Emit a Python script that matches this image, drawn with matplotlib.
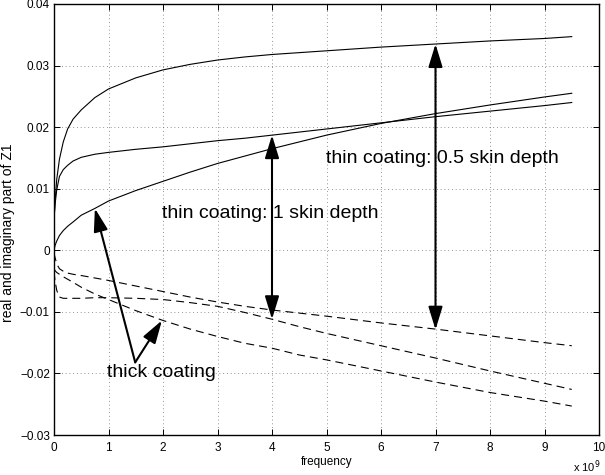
import matplotlib
matplotlib.use('Agg')
import matplotlib.pyplot as plt

plt.rcParams['font.family'] = ['Liberation Sans', 'DejaVu Sans']

# frequency in units of 1e9 Hz
freq = [0, 0.02, 0.05, 0.1, 0.17, 0.25, 0.35, 0.5, 0.75, 1, 1.5, 2, 2.5, 3, 3.5, 4, 4.5, 5, 6, 7, 8, 9, 9.5]

# real parts (solid)
re_thin05 = [0.005, 0.0080, 0.0115, 0.0148, 0.0176, 0.0197, 0.0213, 0.0228, 0.0248, 0.0262, 0.0280, 0.0293, 0.0302,
             0.0309, 0.0314, 0.0318, 0.0321, 0.0324, 0.0330, 0.0335, 0.0340, 0.0344, 0.0347]
re_thin1 = [0.005, 0.0075, 0.0098, 0.0120, 0.0131, 0.0138, 0.0145, 0.0151, 0.0156, 0.0159, 0.0164, 0.0168, 0.0173,
            0.0178, 0.0182, 0.0187, 0.0192, 0.0197, 0.0207, 0.0217, 0.0226, 0.0235, 0.0240]
re_thick = [0.0, 0.0008, 0.0015, 0.0024, 0.0032, 0.0039, 0.0046, 0.0057, 0.0068, 0.0080, 0.0097, 0.0112, 0.0127,
            0.0141, 0.0153, 0.0165, 0.0176, 0.0187, 0.0206, 0.0222, 0.0236, 0.0249, 0.0255]

# imaginary parts (dashed)
im_thin05 = [-0.0005, -0.0012, -0.0022, -0.0030, -0.0034, -0.0037, -0.0039, -0.0041, -0.0045, -0.0049, -0.0058, -0.0067,
             -0.0076, -0.0084, -0.0091, -0.0097, -0.0102, -0.0107, -0.0118, -0.0128, -0.0139, -0.0150, -0.0155]
im_thin1 = [-0.0035, -0.0050, -0.0065, -0.0076, -0.0078, -0.0078, -0.0078, -0.0078, -0.0077, -0.0077, -0.0078, -0.0080,
            -0.0085, -0.0091, -0.0101, -0.0112, -0.0124, -0.0135, -0.0155, -0.0175, -0.0196, -0.0216, -0.0226]
im_thick = [-0.0030, -0.0033, -0.0036, -0.0039, -0.0043, -0.0047, -0.0052, -0.0060, -0.0071, -0.0080, -0.0098, -0.0114,
            -0.0128, -0.0140, -0.0151, -0.0159, -0.0170, -0.0178, -0.0196, -0.0214, -0.0231, -0.0245, -0.0253]

x_ticks = [0, 1, 2, 3, 4, 5, 6, 7, 8, 9, 10]
x_tick_labels = ['0', '1', '2', '3', '4', '5', '6', '7', '8', '9', '10']
y_ticks = [-0.03, -0.02, -0.01, 0, 0.01, 0.02, 0.03, 0.04]
y_tick_labels = ['\u22120.03', '\u22120.02', '\u22120.01', '0', '0.01', '0.02', '0.03', '0.04']

fig = plt.figure(figsize=(6.05, 4.75), dpi=100)
ax = fig.add_axes([54/605, 40/475, 545/605, 431/475])

dash = (0, (7.2, 4.5))
for ser in (re_thin05, re_thin1, re_thick):
    ax.plot(freq, ser, color='k', lw=0.8)
for ser in (im_thin05, im_thin1, im_thick):
    ax.plot(freq, ser, color='k', lw=0.8, linestyle=dash)

ax.set_xlim(0, 10)
ax.set_ylim(-0.03, 0.04)
ax.set_xticks(x_ticks)
ax.set_xticklabels(x_tick_labels)
ax.set_yticks(y_ticks)
ax.set_yticklabels(y_tick_labels)
ax.tick_params(direction='in', length=4, width=0.7, top=True, right=True, labelsize=8.5)
ax.tick_params(axis='x', pad=5)
ax.tick_params(axis='y', pad=3)
ax.grid(True, color='#707070', linestyle=(0, (1, 3.5)), lw=0.6)
for sp in ax.spines.values():
    sp.set_linewidth(1.0)

ax.set_xlabel('frequency', fontsize=8.5)
ax.xaxis.set_label_coords(0.5, -0.048)
ax.set_ylabel('real and imaginary part of Z1', fontsize=10)
ax.yaxis.set_label_coords(-0.072, 0.47)
ax.text(0.952, -0.074, r'x 10$^{9}$', transform=ax.transAxes, fontsize=8, va='center', ha='left')

# annotations
astyle2 = '<|-|>,head_length=14,head_width=4.3'
astyle1 = '-|>,head_length=14,head_width=4.3'
ap2 = dict(arrowstyle=astyle2, color='k', lw=1.5, mutation_scale=1, shrinkA=0, shrinkB=0)
ap1 = dict(arrowstyle=astyle1, color='k', lw=1.5, mutation_scale=1, shrinkA=0, shrinkB=0)

ax.annotate('', xy=(4, 0.0187), xytext=(4, -0.0112), arrowprops=ap2)
ax.annotate('', xy=(7, 0.0335), xytext=(7, -0.0129), arrowprops=ap2)
ax.annotate('', xy=(0.75, 0.0068), xytext=(1.49, -0.0182), arrowprops=ap1)
ax.annotate('', xy=(1.98, -0.0114), xytext=(1.49, -0.0182), arrowprops=ap1)

ax.text(5.0, 0.0149, 'thin coating: 0.5 skin depth', fontsize=14, va='center', ha='left')
ax.text(1.98, 0.0060, 'thin coating: 1 skin depth', fontsize=14, va='center', ha='left')
ax.text(0.97, -0.0199, 'thick coating', fontsize=14, va='center', ha='left')

fig.savefig('out.png', dpi=100)
